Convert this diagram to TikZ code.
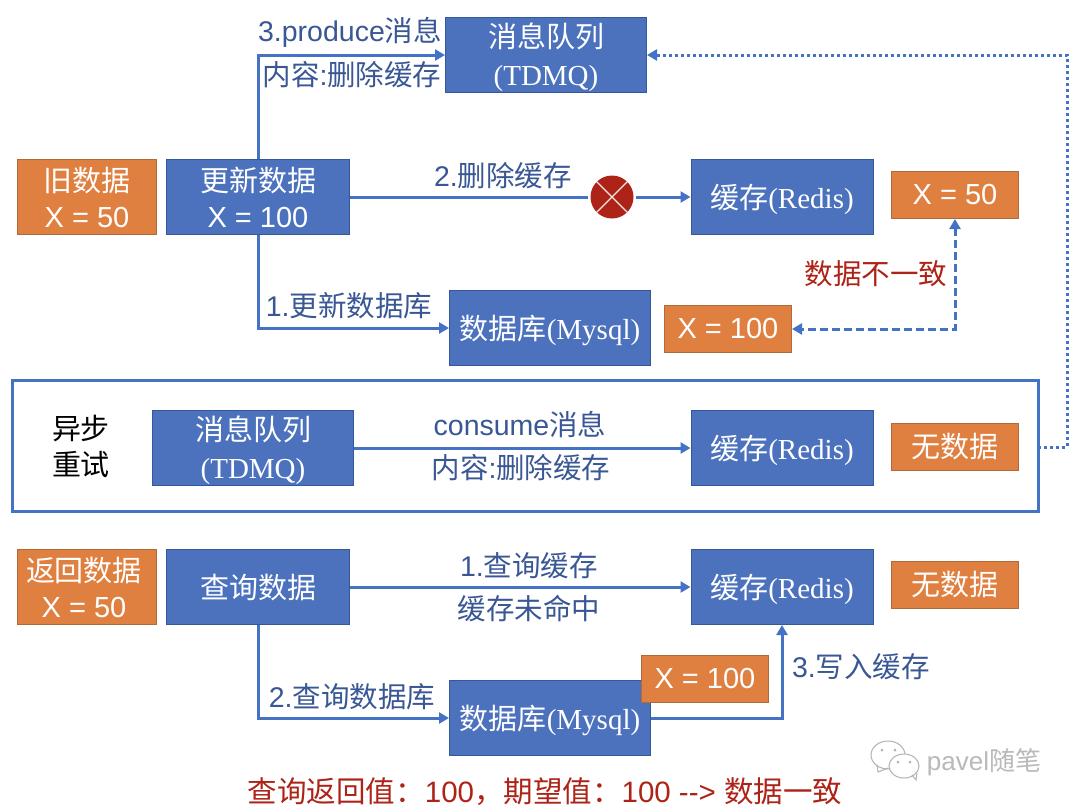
\documentclass[tikz,border=0pt]{standalone}
\usepackage{fontspec}
\setmainfont{Liberation Sans}
\newfontfamily\cjk{Noto Sans CJK SC}
\newfontfamily\lat{Liberation Serif}
\usetikzlibrary{arrows.meta}
\definecolor{bl}{HTML}{4C72BE}
\definecolor{bd}{HTML}{34599B}
\definecolor{obd}{HTML}{AE6A3B}
\definecolor{org}{HTML}{E08040}
\definecolor{lc}{HTML}{4472C4}
\definecolor{tx}{HTML}{3A5795}
\definecolor{rd}{HTML}{AE2318}
\newcommand{\C}[1]{{\cjk #1}}
\newcommand{\Lt}[1]{{\lat #1}}
\newcommand{\Sp}{\rule{0pt}{29pt}}
\tikzset{x=1pt,y=-1pt,
 bbox/.style={draw=bd,line width=1pt,fill=bl,text=white,align=center,inner sep=0pt,font=\fontsize{29}{36}\selectfont},
 obox/.style={draw=obd,line width=1pt,fill=org,text=white,align=center,inner sep=0pt,font=\fontsize{29}{36}\selectfont},
 lab/.style={text=tx,font=\fontsize{28.5}{34}\selectfont,inner sep=0pt},
 conn/.style={draw=lc,line width=3pt,-{Triangle[length=10pt,width=11pt]}},
 dashc/.style={draw=lc,line width=3pt,dash pattern=on 8pt off 4pt,{Triangle[length=10pt,width=11pt]}-{Triangle[length=10pt,width=11pt]}},
 dotc/.style={draw=lc,line width=3pt,dash pattern=on 3pt off 3pt,-{Triangle[length=10pt,width=11pt]}}}
\newcommand{\bx}[6]{\node[#1,minimum width=#4pt,minimum height=#5pt] (#2) at (#3) {#6};}
\begin{document}
\begin{tikzpicture}
\useasboundingbox (0,0) rectangle (1080,812);
\fill[white] (0,0) rectangle (1080,812);
\draw[draw=lc,line width=3pt] (12,380) rectangle (1038,511);
\coordinate (fr) at (1038,447);
\coordinate (a1) at (1067,447); \coordinate (a2) at (1067,55);
\bx{bbox}{mq}{546,55}{201}{75}{\Sp\C{消息队列}\\[2pt]\Lt{(TDMQ)}}
\bx{obox}{old}{87,197}{139}{75}{\C{旧数据}\\X = 50}
\bx{bbox}{upd}{258,197}{183}{75}{\C{更新数据}\\X = 100}
\bx{bbox}{r1}{782,197}{182}{75}{\Sp\C{缓存}\Lt{(Redis)}}
\bx{obox}{x50}{955,195}{127}{47}{X = 50}
\bx{bbox}{db1}{550,328}{201}{75}{\Sp\C{数据库}\Lt{(Mysql)}}
\bx{obox}{x100}{728,329}{127}{47}{X = 100}
\bx{bbox}{mq2}{253,448}{201}{75}{\Sp\C{消息队列}\\[2pt]\Lt{(TDMQ)}}
\bx{bbox}{r2}{782,448}{182}{75}{\Sp\C{缓存}\Lt{(Redis)}}
\bx{obox}{no1}{955,447}{127}{47}{\C{无数据}}
\bx{obox}{ret}{87,587}{139}{75}{\C{返回数据}\hspace*{6pt}\\X = 50\hspace*{6pt}}
\bx{bbox}{qry}{258,587}{183}{75}{\C{查询数据}}
\bx{bbox}{r3}{782,587}{182}{75}{\Sp\C{缓存}\Lt{(Redis)}}
\bx{obox}{no2}{955,585}{127}{47}{\C{无数据}}
\bx{bbox}{db2}{550,718}{201}{75}{\Sp\C{数据库}\Lt{(Mysql)}}
\bx{obox}{x1002}{705,679}{127}{47}{X = 100}
\node[circle,fill=rd,minimum size=43pt,inner sep=0pt] (xc) at (612,197) {};
\draw[white!90!rd,line width=1.2pt] (xc.north west)--(xc.south east) (xc.north east)--(xc.south west);
\draw[conn] (upd.north) |- (mq.west);
\draw[conn] (upd.south) |- (db1.west);
\draw[draw=lc,line width=3pt,shorten >=2pt] (upd.east)--(xc.west);
\draw[conn,shorten <=2pt] (xc.east)--(r1.west);
\draw[conn] (mq2.east)--(r2.west);
\draw[conn] (qry.east)--(r3.west);
\draw[conn] (qry.south) |- (db2.west);
\draw[conn] (db2.east) -| (r3.south);
\coordinate (kn) at (955,329);
\draw[dashc] (x50.south) -- (kn) -- (x100.east);
\draw[dotc] (fr) -- (a1) -- (a2) -- (mq.east);
\node[lab] (l1) at (350,32) {3.produce\C{消息}};
\node[lab] (l2) at (352,75) {\C{内容}:\C{删除缓存}};
\node[lab] (l3) at (503,176) {2.\C{删除缓存}};
\node[lab] (l4) at (349,306) {1.\C{更新数据库}};
\node[lab,text=rd] (l5) at (876,274) {\C{数据不一致}};
\node[lab,text=black,align=center,font=\fontsize{29}{36}\selectfont] (l6) at (81,446) {\C{异步}\\\C{重试}};
\node[lab] (l7) at (520,425) {consume\C{消息}};
\node[lab] (l8) at (521,468) {\C{内容}:\C{删除缓存}};
\node[lab] (l9) at (529,566) {1.\C{查询缓存}};
\node[lab] (l10) at (529,609) {\C{缓存未命中}};
\node[lab] (l11) at (352,697) {2.\C{查询数据库}};
\node[lab] (l12) at (861,667) {3.\C{写入缓存}};
\node[lab,text=rd,font=\fontsize{29.5}{34}\selectfont] (l13) at (545,792) {\C{查询返回值：}100\C{，期望值：}100 -{}-{}> \C{数据一致}};
% watermark
\draw[gray!60,line width=1pt,fill=white] (888,755) ellipse (17 and 14);
\draw[gray!60,line width=1pt] (877,765)--(878,772)--(888,768);
\draw[gray!60,line width=1pt,fill=white] (904,766) ellipse (15 and 12);
\draw[gray!60,line width=1pt] (912,775)--(916,780)--(917,773);
\foreach \p in {(882,750),(895,750),(898,762),(910,762)} \fill[gray!60] \p circle (1.5);
\node[lab,text=gray!55,font=\fontsize{26}{30}\selectfont] (wm) at (984,762) {pavel\C{随笔}};
\end{tikzpicture}
\end{document}
